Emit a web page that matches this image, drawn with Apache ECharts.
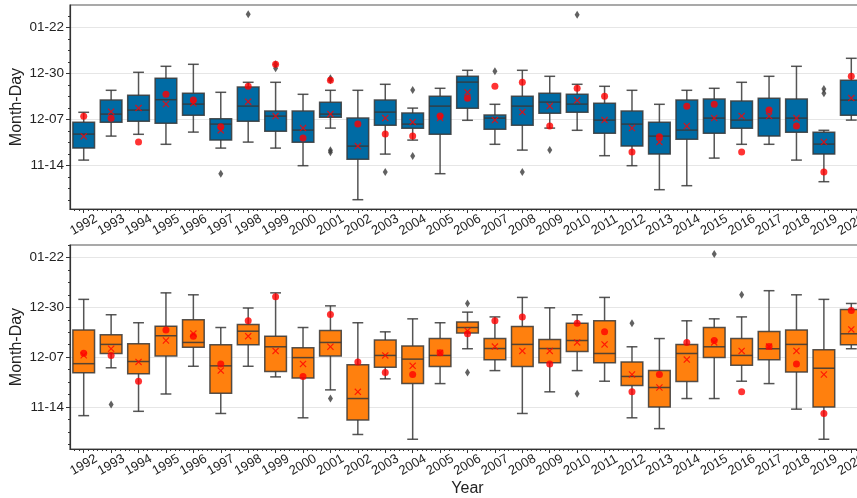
<!DOCTYPE html>
<html>
<head>
<meta charset="utf-8">
<script src="https://cdn.jsdelivr.net/npm/echarts@6/dist/echarts.min.js"></script>
<style>html,body{margin:0;padding:0;background:#fff}#c{width:857px;height:498px}</style>
</head>
<body>
<div id="c"></div>
<script>
// Values are day offsets from 12-07 (0 = Dec 7, -23 = Nov 14, 23 = Dec 30, 46 = Jan 22)
const years = ['1992','1993','1994','1995','1996','1997','1998','1999','2000','2001','2002','2003','2004','2005','2006','2007','2008','2009','2010','2011','2012','2013','2014','2015','2016','2017','2018','2019','2020'];
const yTickValues = [-23, 0, 23, 46];

// Top panel (blue): [low whisker, Q1, median, Q3, high whisker]
const topBoxes = [
  [-20.2,-14.2,-7.2,-1.3,3.7],[-8.2,-1.3,2.8,9.8,14.7],[-7.3,-0.8,4.8,12.2,23.7],[-12.3,-1.8,10,20.7,26.7],
  [-6.2,2.2,7.8,13.2,27.7],[-14.2,-10.2,-2.2,0.5,13.7],[-11.2,-0.8,6.8,16.3,18.7],[-14.2,-5.8,1.8,4.3,18.7],
  [-23,-11.3,-5.2,4.3,12.7],[-4.2,1.2,2.8,8.7,14.7],[-40,-19.8,-13.2,0.8,14.7],[-17.2,-2.8,3.8,9.8,17.7],
  [-10.2,-4.3,-2.2,3.3,5.8],[-27,-7.3,6.8,11.7,15.7],[-0.3,5.7,18.8,21.7,24.7],[-12.3,-4.8,0.8,2.3,7.7],
  [-15.2,-2.8,6.8,11.7,24.7],[-4.2,3.2,8.8,13.2,21.7],[-5.3,3.7,7.8,12.7,17.7],[-18,-6.8,-0.2,8.2,16.7],
  [-23,-13.2,-2.2,4.3,14.7],[-35,-17.2,-8.2,-1.3,7.7],[-33,-9.8,-5.2,9.8,14.7],[-19.2,-6.8,0.8,10.3,15.7],
  [-12.3,-4.3,-0.2,9.3,18.7],[-12.3,-8.2,0.8,10.7,21.7],[-20.2,-6.3,0.8,10.3,26.7],[-31,-17.2,-12.2,-6.3,-5.3],
  [-0.2,2.2,9.8,19.7,30.7]
];
const topMeans = [-8.3,4,5.8,7.8,8.2,-5.3,9,1.8,-4.2,2.8,-13.2,0.8,-1.2,0.8,13.7,-0.2,3.8,6.8,9.7,-0.2,-4.2,-11.2,-3.2,0.8,1.8,1.8,0.8,-11.2,10.8];
const topDots = [1.7,0.7,-11.2,12.7,9.8,-3.5,16.7,27.7,-9.2,19.7,-2.2,-7.2,-8.2,1.8,10.7,16.7,18.7,-3.2,15.7,11.7,-16.2,-8.5,6.7,7.7,-16.2,4.8,-3.2,-26.2,21.7];
// outliers: [year index, value]
const topOutliers = [[5,-27],[6,52.7],[7,25.7],[7,27.7],[9,20.7],[9,19.7],[9,-15.3],[9,-16.3],[11,-26.2],[12,14.8],[12,-18.2],[15,24.2],[16,-26.2],[17,-15.2],[18,52.5],[27,15.3],[27,13.2]];

// Bottom panel (orange)
const botBoxes = [
  [-27,-7.2,-3.0,12.6,26.7],[-4.9,1.7,5.9,10.3,19.6],[-25,-7.7,-2,6.2,15.9],[-17,0.6,9.9,14.3,29.7],
  [-4.2,4.6,6.8,17.3,28.8],[-26,-16.6,-4,5.7,13.7],[-4.2,5.7,12,15.1,22.7],[-9.1,-6.6,4.8,9.7,29.7],
  [-28,-9.6,-0.2,4.3,13.7],[-15.1,0.6,6.8,12.3,23.7],[-35.7,-29,-19.1,-3.5,15.9],[-10,-4.6,0.8,7.9,11.7],
  [-37.9,-12.2,-0.9,5.2,17.7],[-12.2,-4.3,0.8,8.6,15.9],[3.9,11.2,13.7,16.3,20.8],[-6.2,-1.2,4,8.6,18.6],
  [-26,-4.3,5.9,14.2,27.6],[-16,-2.6,4,8.2,22.8],[-6.2,2.6,7.7,15.7,19.6],[-11.1,-2.6,1.7,16.8,27.6],
  [-28,-13.1,-8.9,-2.2,4.8],[-33,-23,-14,-6.2,8.6],[-19.1,-11.2,1.7,5.9,16.8],[-19.1,-0.2,4.8,13.7,17.7],
  [-11.1,-3.7,0.8,8.6,18.6],[-12.2,-1.2,3.9,11.9,30.7],[-24,-6.8,5.9,12.6,28.8],[-37.9,-23,-5.1,3.4,26.7],
  [3.9,5.7,10.8,22,24.8]
];
const botMeans = [0.9,3.9,-2.2,7.7,10.9,-6.2,9.7,2.9,-3.1,4.8,-16,0.8,-4,2,12.2,4.9,2.9,2.9,6.8,5.9,-8,-14,-1.1,6.8,2.9,4.9,2.9,-8,12.8];
const botDots = [1.8,0.8,-11.1,12.6,9.7,-3.1,16.8,27.9,-8.9,19.7,-2.2,-7.1,-8,2,10.8,16.8,18.6,-3.1,15.7,11.7,-16,-8,6.8,7.7,-16,4.9,-3.1,-26,21.6];
const botOutliers = [[1,-21.9],[9,-19.1],[14,24.8],[14,-7.1],[18,-16.9],[20,15.7],[23,47.6],[24,28.8]];

const topRange = [-44.65, 57.35];
const botRange = [-42.4, 51.8];

function md(d) {
  const t = new Date(Date.UTC(2001, 11, 7) + Math.round(d) * 86400000);
  return String(t.getUTCMonth() + 1).padStart(2, '0') + '-' + String(t.getUTCDate()).padStart(2, '0');
}
function minorY(range) {
  const out = [];
  for (let k = -20; k <= 20; k++) {
    const v = -23 + 5.75 * k;
    if (k % 4 !== 0 && v > range[0] && v < range[1]) out.push(v);
  }
  return out;
}
const minorX = [];
for (let i = -1; i < years.length; i++) for (let j = 1; j <= 5; j++) {
  const v = i + j / 6;
  if (v > -0.5 && v < years.length - 0.5) minorX.push(v);
}

const FONT = 'Liberation Sans, Arial, sans-serif';
const EDGE = 'rgba(55,55,55,0.85)';
const XPATH = 'path://M1.2,0 L5,3.8 L8.8,0 L10,1.2 L6.2,5 L10,8.8 L8.8,10 L5,6.2 L1.2,10 L0,8.8 L3.8,5 L0,1.2 Z';

function boxRenderer(fill) {
  return function (params, api) {
    const x = api.value(0);
    const lo = api.coord([x, api.value(1)]);
    const q1 = api.coord([x, api.value(2)]);
    const me = api.coord([x, api.value(3)]);
    const q3 = api.coord([x, api.value(4)]);
    const hi = api.coord([x, api.value(5)]);
    const bw = api.size([1, 0])[0] * 0.79;
    const cx = lo[0];
    const ls = { stroke: EDGE, lineWidth: 1.5 };
    return {
      type: 'group',
      children: [
        { type: 'line', shape: { x1: cx, y1: q3[1], x2: cx, y2: hi[1] }, style: ls },
        { type: 'line', shape: { x1: cx, y1: q1[1], x2: cx, y2: lo[1] }, style: ls },
        { type: 'line', shape: { x1: cx - bw / 4, y1: hi[1], x2: cx + bw / 4, y2: hi[1] }, style: ls },
        { type: 'line', shape: { x1: cx - bw / 4, y1: lo[1], x2: cx + bw / 4, y2: lo[1] }, style: ls },
        { type: 'rect', shape: { x: cx - bw / 2, y: q3[1], width: bw, height: q1[1] - q3[1] }, style: { fill: fill, stroke: EDGE, lineWidth: 1.5 } },
        { type: 'line', shape: { x1: cx - bw / 2, y1: me[1], x2: cx + bw / 2, y2: me[1] }, style: ls }
      ]
    };
  };
}

function panel(idx, boxes, means, dots, outliers, fill) {
  const xa = idx * 2, ya = idx * 2;
  return [
    { type: 'custom', xAxisIndex: xa, yAxisIndex: ya, z: 2, renderItem: boxRenderer(fill),
      encode: { x: 0, y: [1, 2, 3, 4, 5] },
      data: boxes.map((b, i) => [i].concat(b)) },
    { type: 'scatter', xAxisIndex: xa, yAxisIndex: ya, z: 3, symbol: 'diamond', symbolSize: [5, 8],
      itemStyle: { color: '#3a3a3a' }, data: outliers.map(o => [o[0], o[1]]) },
    { type: 'scatter', xAxisIndex: xa, yAxisIndex: ya, z: 4, symbol: 'circle', symbolSize: 7,
      itemStyle: { color: '#ff0000' }, data: dots.map((v, i) => [i, v]) },
    { type: 'scatter', xAxisIndex: xa, yAxisIndex: ya, z: 5, symbol: XPATH, symbolSize: 7,
      itemStyle: { color: '#ff0000' }, data: means.map((v, i) => [i, v]) }
  ];
}

function catAxis(grid, name) {
  return {
    type: 'category', gridIndex: grid, data: years, boundaryGap: true, position: 'bottom',
    name: name, nameLocation: 'middle', nameGap: 32, nameMoveOverlap: false,
    nameTextStyle: { fontFamily: FONT, fontSize: 16, color: '#222' },
    axisLine: { show: true, onZero: false, lineStyle: { color: '#333', width: 1.2 } },
    axisTick: { show: true, alignWithLabel: true, length: 4, lineStyle: { color: '#333' } },
    axisLabel: { rotate: 30, interval: 0, align: 'center', verticalAlign: 'middle', margin: 16,
      fontFamily: FONT, fontSize: 13, color: '#222' },
    splitLine: { show: false }
  };
}
function minorXAxis(grid) {
  return {
    type: 'value', gridIndex: grid, min: -0.5, max: years.length - 0.5, position: 'bottom',
    axisLine: { show: false, onZero: false }, splitLine: { show: false },
    axisLabel: { show: false },
    axisTick: { show: true, customValues: minorX, length: 2, lineStyle: { color: '#333' } }
  };
}
function valAxis(grid, range) {
  return {
    type: 'value', gridIndex: grid, min: range[0], max: range[1], position: 'left',
    name: 'Month-Day', nameLocation: 'middle', nameGap: 45, nameMoveOverlap: false,
    nameTextStyle: { fontFamily: FONT, fontSize: 16, color: '#222' },
    axisLine: { show: true, onZero: false, lineStyle: { color: '#333', width: 1.2 } },
    axisTick: { show: true, customValues: yTickValues, length: 4, lineStyle: { color: '#333' } },
    axisLabel: { customValues: yTickValues, formatter: v => md(v), margin: 6,
      fontFamily: FONT, fontSize: 13.5, color: '#222' },
    splitLine: { show: true, lineStyle: { color: '#e6e6e6', width: 1 } }
  };
}
function minorYAxis(grid, range) {
  return {
    type: 'value', gridIndex: grid, min: range[0], max: range[1], position: 'left',
    axisLine: { show: false, onZero: false }, splitLine: { show: false }, axisLabel: { show: false },
    axisTick: { show: true, customValues: minorY(range), length: 2, lineStyle: { color: '#333' } }
  };
}

const chart = echarts.init(document.getElementById('c'), null, { renderer: 'canvas' });
chart.setOption({
  animation: false,
  backgroundColor: '#fff',
  grid: [
    { left: 70, top: 5, width: 795, height: 204, show: true, borderColor: '#555', borderWidth: 1.2, backgroundColor: 'transparent', outerBoundsMode: 'none', containLabel: false },
    { left: 70, top: 245, width: 795, height: 204, show: true, borderColor: '#555', borderWidth: 1.2, backgroundColor: 'transparent', outerBoundsMode: 'none', containLabel: false }
  ],
  xAxis: [catAxis(0, ''), minorXAxis(0), catAxis(1, 'Year'), minorXAxis(1)],
  yAxis: [valAxis(0, topRange), minorYAxis(0, topRange), valAxis(1, botRange), minorYAxis(1, botRange)],
  series: [].concat(
    panel(0, topBoxes, topMeans, topDots, topOutliers, '#006BA4'),
    panel(1, botBoxes, botMeans, botDots, botOutliers, '#FF800E')
  )
});
</script>
</body>
</html>
